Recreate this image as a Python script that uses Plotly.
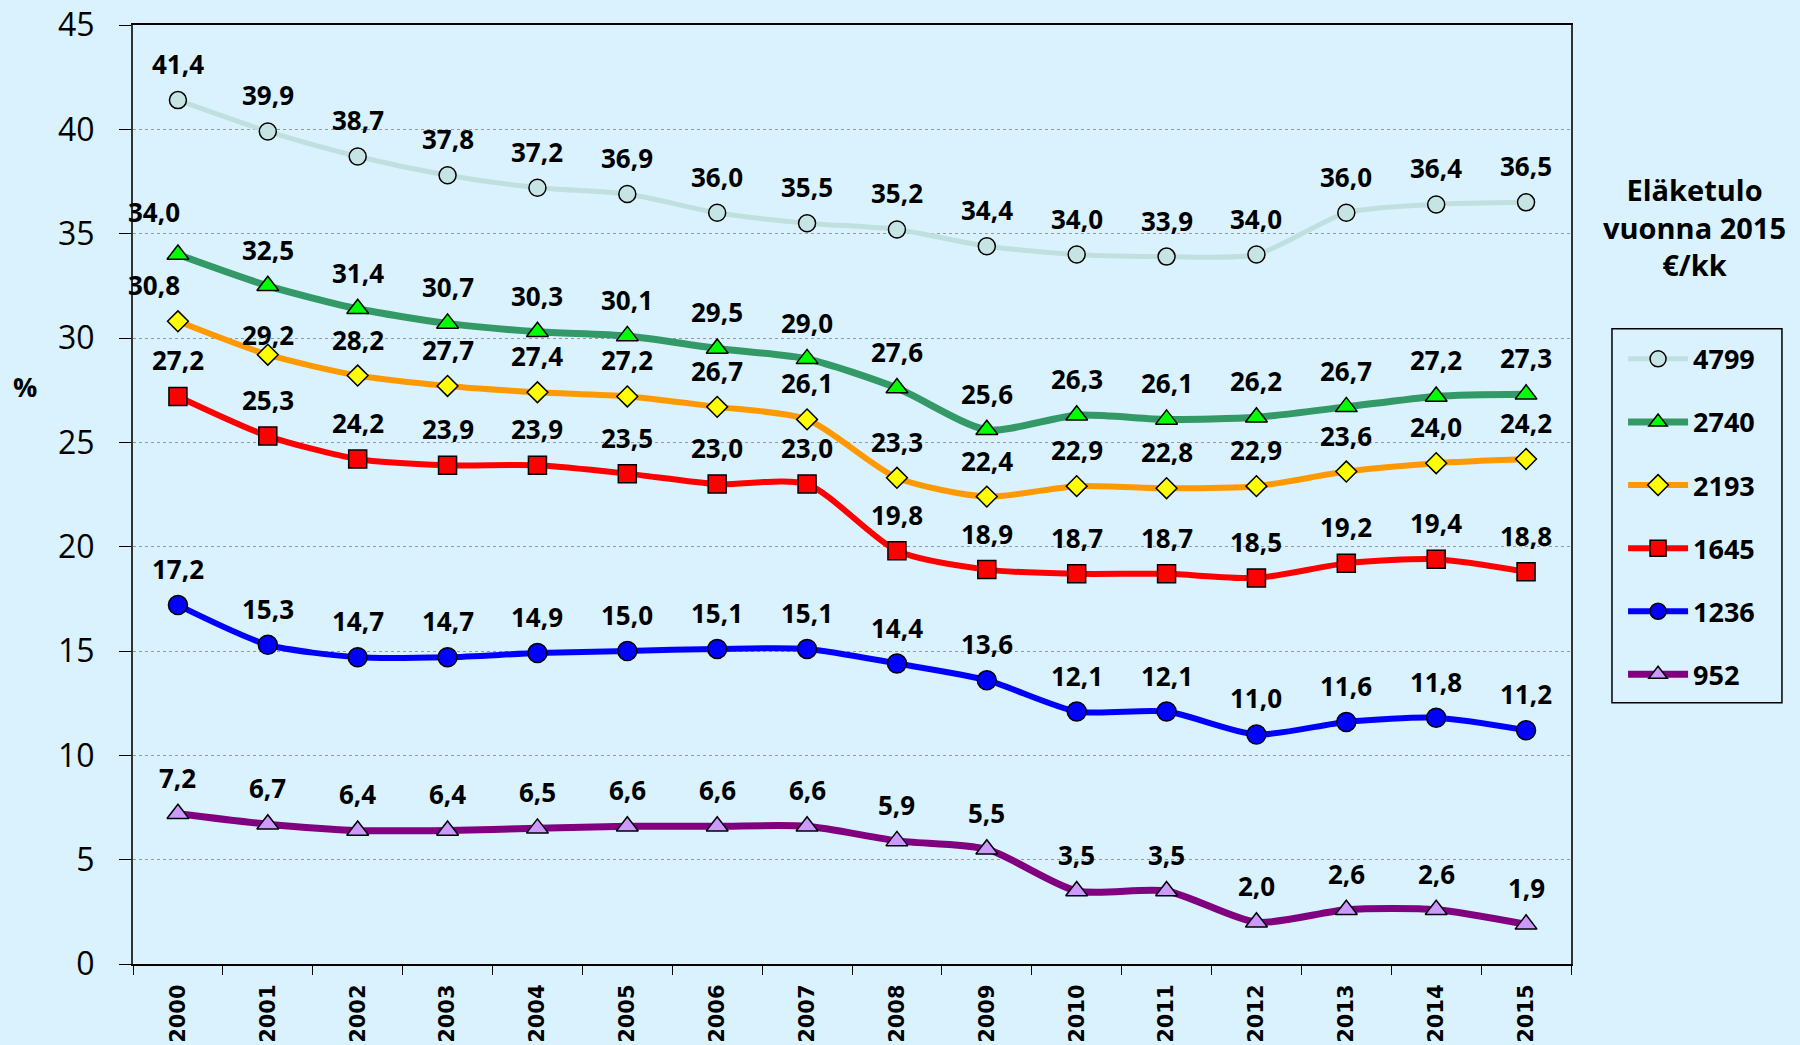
import plotly.graph_objects as go

years = [str(y) for y in range(2000, 2016)]
series_names = ["4799", "2740", "2193", "1645", "1236", "952"]
s4799 = [41.4, 39.9, 38.7, 37.8, 37.2, 36.9, 36.0, 35.5, 35.2, 34.4, 34.0, 33.9, 34.0, 36.0, 36.4, 36.5]
s2740 = [34.0, 32.5, 31.4, 30.7, 30.3, 30.1, 29.5, 29.0, 27.6, 25.6, 26.3, 26.1, 26.2, 26.7, 27.2, 27.3]
s2193 = [30.8, 29.2, 28.2, 27.7, 27.4, 27.2, 26.7, 26.1, 23.3, 22.4, 22.9, 22.8, 22.9, 23.6, 24.0, 24.2]
s1645 = [27.2, 25.3, 24.2, 23.9, 23.9, 23.5, 23.0, 23.0, 19.8, 18.9, 18.7, 18.7, 18.5, 19.2, 19.4, 18.8]
s1236 = [17.2, 15.3, 14.7, 14.7, 14.9, 15.0, 15.1, 15.1, 14.4, 13.6, 12.1, 12.1, 11.0, 11.6, 11.8, 11.2]
s952 = [7.2, 6.7, 6.4, 6.4, 6.5, 6.6, 6.6, 6.6, 5.9, 5.5, 3.5, 3.5, 2.0, 2.6, 2.6, 1.9]
values = [s4799, s2740, s2193, s1645, s1236, s952]

styles = [
    dict(line="#BFE0DF", fill="#C6E4E4", symbol="circle", size=17, width=5),
    dict(line="#339966", fill="#00FF00", symbol="triangle-up", size=19, width=7),
    dict(line="#FF9900", fill="#FFFF00", symbol="diamond", size=16, width=6),
    dict(line="#FF0000", fill="#FF0000", symbol="square", size=18, width=6),
    dict(line="#0000FF", fill="#0000FF", symbol="circle", size=19, width=6),
    dict(line="#800080", fill="#CC99FF", symbol="triangle-up", size=19, width=7),
]
# label offset overrides (series index, point index) -> (xshift, yshift)
label_override = {(1, 0): (-24, 43), (2, 0): (-24, 36), (2, 1): (0, 20)}

fig = go.Figure()
annots = []
for i, (name, vals, st) in enumerate(zip(series_names, values, styles)):
    fig.add_trace(go.Scatter(
        x=years, y=vals, name=name, mode="lines+markers",
        line=dict(color=st["line"], width=st["width"], shape="spline", smoothing=0.7),
        marker=dict(symbol=st["symbol"], size=st["size"], color=st["fill"],
                    line=dict(color="black", width=1.5)),
        legendgroup=name,
    ))
    for j, v in enumerate(vals):
        dx, dy = label_override.get((i, j), (0, 36))
        annots.append(dict(xref="x", yref="y", x=j, y=v, text=f"{v:.1f}".replace(".", ","),
                           showarrow=False, xshift=dx, yshift=dy,
                           font=dict(family="Open Sans", size=26, color="black", weight="bold")))

annots += [
    dict(xref="paper", yref="paper", x=1.0862, y=0.785, xanchor="center", yanchor="middle",
         text="Eläketulo<br>vuonna 2015<br>€/kk", showarrow=False, align="center",
         font=dict(family="Open Sans", size=29, color="black", weight="bold")),
    dict(xref="paper", yref="paper", x=-0.0751, y=0.6147, xanchor="center", yanchor="middle",
         text="%", showarrow=False,
         font=dict(family="Open Sans", size=27, color="black", weight="bold")),
]

bg = "#DAF2FE"
fig.update_layout(
    width=1800, height=1045,
    paper_bgcolor=bg, plot_bgcolor=bg,
    margin=dict(l=133, r=229, t=25, b=80.5, autoexpand=False),
    showlegend=True,
    legend=dict(x=1.0362, y=0.6701, xanchor="left", yanchor="top",
                borderwidth=0, bgcolor="rgba(0,0,0,0)",
                font=dict(family="Open Sans", size=27, color="black", weight="bold"),
                tracegroupgap=25, traceorder="grouped", itemwidth=60),
    annotations=annots,
    shapes=[dict(type="rect", xref="paper", yref="paper", x0=1.0285, x1=1.1467,
                 y0=0.2783, y1=0.6764, line=dict(color="black", width=1.5))],
)
fig.update_xaxes(type="category", range=[-0.5, 15.5], tickangle=-90, automargin=False,
                 tickfont=dict(family="DejaVu Sans", size=21, color="black", weight="bold"),
                 showline=True, linecolor="black", linewidth=2, mirror=True,
                 ticks="outside", ticklen=9, tickcolor="black", tickson="boundaries",
                 showgrid=False, ticklabelstandoff=10)
fig.update_yaxes(range=[0, 45], dtick=5, tick0=0, automargin=False,
                 tickfont=dict(family="Open Sans", size=32, color="black"),
                 showline=True, linecolor="#333333", linewidth=2, mirror=True,
                 ticks="outside", ticklen=12, tickcolor="black",
                 showgrid=True, gridcolor="#999999", gridwidth=1, griddash="dot",
                 zeroline=False, ticklabelstandoff=18)

fig.write_html("out.html", config={"displayModeBar": False},
               post_script="document.body.style.margin='0';document.body.style.background='%s';" % bg)
